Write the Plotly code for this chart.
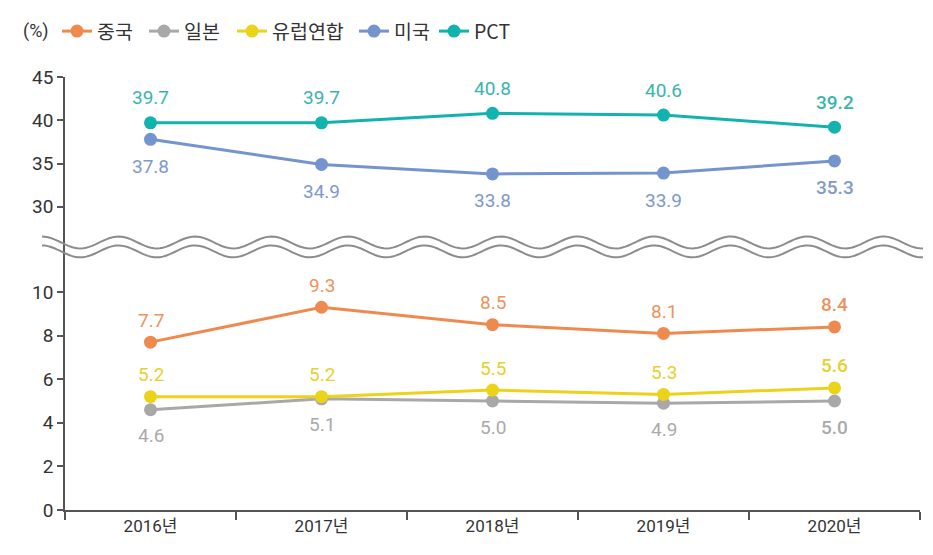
import numpy as np
import plotly.graph_objects as go

years = ["2016년", "2017년", "2018년", "2019년", "2020년"]
china = [7.7, 9.3, 8.5, 8.1, 8.4]
japan = [4.6, 5.1, 5.0, 4.9, 5.0]
eu = [5.2, 5.2, 5.5, 5.3, 5.6]
usa = [37.8, 34.9, 33.8, 33.9, 35.3]
pct = [39.7, 39.7, 40.8, 40.6, 39.2]

series = [
    # name, values, axis, line colour, label colour, label shift
    ("중국", china, "y", "#EF8A4F", "#EE925C", 22),
    ("일본", japan, "y", "#A8A8A8", "#AAAAAA", -26),
    ("유럽연합", eu, "y", "#EBD31A", "#E6D02E", 22),
    ("미국", usa, "y2", "#7494CE", "#7E99CC", -27),
    ("PCT", pct, "y2", "#12B2AE", "#3AB4AD", 25),
]
legend_px = [57, 144, 232, 354, 434]

W, H = 933, 555
L, R, T, B = 65, 13, 73, 45
plot_w = W - L - R
plot_h = H - T - B
split_px = 245
dom_split = (H - B - split_px) / plot_h
bottom_top = (H - B - split_px) / 22.0
top_bottom = 45 - (split_px - T) / ((204 - 73) / 15.0)

FONT = "Roboto, 'Noto Sans CJK KR', sans-serif"
KFONT = "'Noto Sans CJK KR', Roboto, sans-serif"

fig = go.Figure()
annotations = []
legends = {}
for k, (name, vals, ax, col, lcol, shift) in enumerate(series):
    lname = "legend" if k == 0 else f"legend{k + 1}"
    fig.add_trace(go.Scatter(
        x=years, y=vals, name=name, yaxis=ax, mode="lines+markers",
        line=dict(color=col, width=3),
        marker=dict(color=col, size=13),
        hoverinfo="skip", legend=lname,
    ))
    legends[lname] = dict(
        orientation="h", x=(legend_px[k] - L) / plot_w, xanchor="left",
        y=1 + (T - 27) / plot_h, yanchor="middle",
        font=dict(size=19.5, color="#333333", family=KFONT),
        bgcolor="rgba(0,0,0,0)",
    )
    for i, (yr, v) in enumerate(zip(years, vals)):
        annotations.append(dict(
            x=yr, y=v, xref="x", yref=ax, text=f"{v:.1f}", showarrow=False,
            yshift=shift,
            font=dict(size=19, color=lcol, family=FONT,
                      weight=500 if i == len(years) - 1 else 400),
        ))

annotations.append(dict(
    x=(36 - L) / plot_w, y=1 + (T - 27) / plot_h, xref="paper", yref="paper",
    text="(%)", showarrow=False, xanchor="center", yanchor="middle",
    font=dict(size=18, color="#333333", family=FONT),
))

# wavy axis-break decoration
def wave_path(center_px):
    xs = np.linspace(42, 923, 300)
    ys = center_px - 6 * np.cos(2 * np.pi * (xs - 42) / 76.5)
    px = (xs - L) / plot_w
    py = (H - B - ys) / plot_h
    return "M " + " L ".join(f"{a:.5f},{b:.5f}" for a, b in zip(px, py))

shapes = [
    dict(type="path", path=wave_path(c), xref="paper", yref="paper",
         line=dict(color="#8C8C8C", width=2))
    for c in (240, 249)
]

axis_col = "#555555"
fig.update_layout(
    width=W, height=H,
    margin=dict(l=L, r=R, t=T, b=B),
    paper_bgcolor="white", plot_bgcolor="white",
    font=dict(family=FONT, size=16, color="#333333"),
    showlegend=True,
    xaxis=dict(type="category", range=[-0.5, 4.5], showline=True,
               linecolor=axis_col, linewidth=1.5, ticks="outside",
               tickson="boundaries", ticklen=8, tickcolor=axis_col,
               tickwidth=1.5, showgrid=False, zeroline=False,
               tickfont=dict(size=17, color="#333333"), fixedrange=True),
    yaxis=dict(domain=[0, dom_split], range=[0, bottom_top],
               tickvals=[0, 2, 4, 6, 8, 10], showline=True,
               linecolor=axis_col, linewidth=1.5, ticks="outside",
               ticklen=6, tickcolor=axis_col, tickwidth=1.5,
               showgrid=False, zeroline=False, anchor="x",
               tickfont=dict(size=19, color="#333333")),
    yaxis2=dict(domain=[dom_split, 1], range=[top_bottom, 45],
                tickvals=[30, 35, 40, 45], showline=True,
                linecolor=axis_col, linewidth=1.5, ticks="outside",
                ticklen=6, tickcolor=axis_col, tickwidth=1.5,
                showgrid=False, zeroline=False, anchor="x",
                tickfont=dict(size=19, color="#333333")),
    annotations=annotations,
    shapes=shapes,
    **legends,
)

fig.write_html("out.html")
